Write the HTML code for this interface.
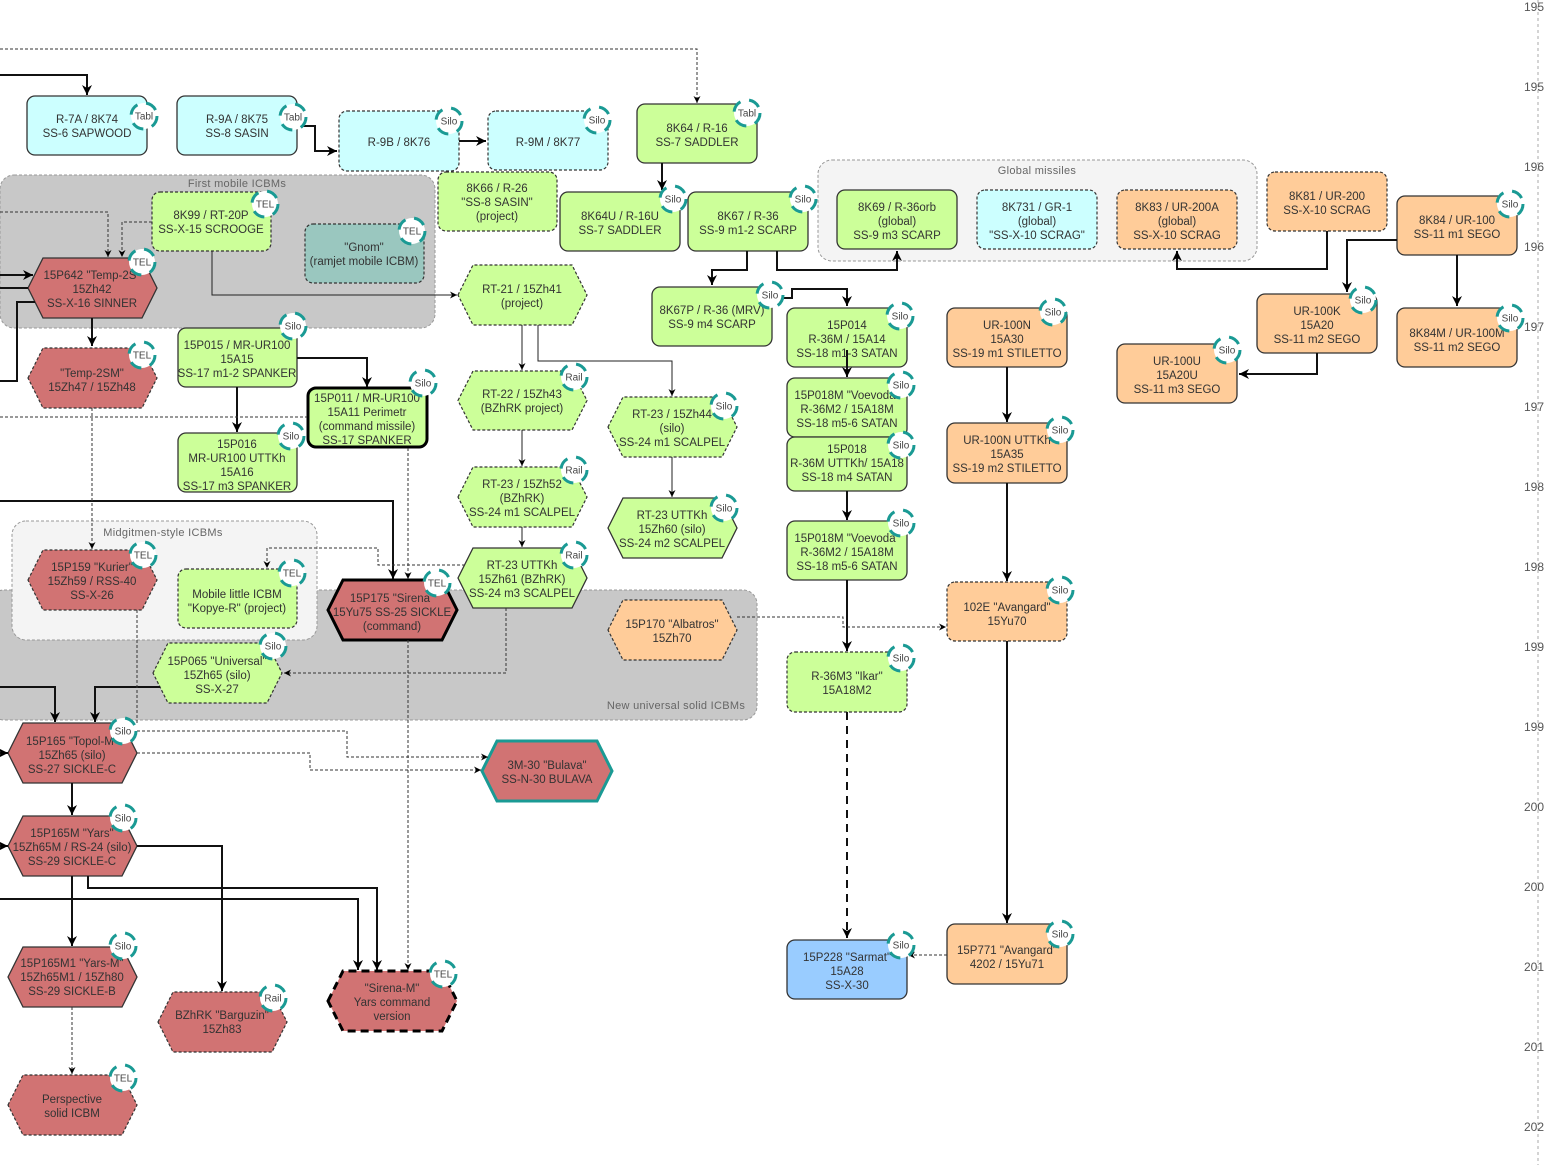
<!DOCTYPE html>
<html><head><meta charset="utf-8"><style>
html,body{margin:0;padding:0;background:#fff;}
svg{display:block;}
.t{font-family:"Liberation Sans",sans-serif;font-size:11.5px;fill:#333;text-anchor:middle;}
.g{font-family:"Liberation Sans",sans-serif;font-size:11px;fill:#666;text-anchor:middle;letter-spacing:0.3px;}
.b{font-family:"Liberation Sans",sans-serif;font-size:10px;fill:#444;text-anchor:middle;}
.y{font-family:"Liberation Sans",sans-serif;font-size:12px;fill:#555;}
.n{stroke:#333;stroke-width:1.3;}
.d{stroke:#333;stroke-width:1.2;stroke-dasharray:3 2;}
.cy{fill:#ccffff}.gr{fill:#ccff99}.rd{fill:#d17373}.or{fill:#ffcc99}.bl{fill:#99ccff}
.k{fill:none;stroke:#111;stroke-width:2;}
.s{fill:none;stroke:#222;stroke-width:1;}
.ds{fill:none;stroke:#333;stroke-width:1;stroke-dasharray:3 2;}
.bd{fill:#fff;stroke:#1a9a94;stroke-width:3;stroke-dasharray:12 9;}
</style></head><body>
<svg width="1544" height="1165" viewBox="0 0 1544 1165" xmlns="http://www.w3.org/2000/svg">
<defs>
<marker id="A" viewBox="0 0 10 10" refX="10" refY="5" markerWidth="10" markerHeight="10" markerUnits="userSpaceOnUse" orient="auto"><path d="M0,0L10,5L0,10L3,5Z" fill="#000"/></marker>
<marker id="B" viewBox="0 0 10 10" refX="10" refY="5" markerWidth="7" markerHeight="7" markerUnits="userSpaceOnUse" orient="auto"><path d="M0,0L10,5L0,10L3,5Z" fill="#000"/></marker>
</defs>
<rect width="1544" height="1165" fill="#fff"/>

<!-- timeline -->
<line x1="1538" y1="0" x2="1538" y2="1165" stroke="#aaa" stroke-width="1" stroke-dasharray="3 3"/>
<text class="y" x="1524" y="11">1950</text>
<text class="y" x="1524" y="91">1955</text>
<text class="y" x="1524" y="171">1960</text>
<text class="y" x="1524" y="251">1965</text>
<text class="y" x="1524" y="331">1970</text>
<text class="y" x="1524" y="411">1975</text>
<text class="y" x="1524" y="491">1980</text>
<text class="y" x="1524" y="571">1985</text>
<text class="y" x="1524" y="651">1990</text>
<text class="y" x="1524" y="731">1995</text>
<text class="y" x="1524" y="811">2000</text>
<text class="y" x="1524" y="891">2005</text>
<text class="y" x="1524" y="971">2010</text>
<text class="y" x="1524" y="1051">2015</text>
<text class="y" x="1524" y="1131">2020</text>

<!-- groups -->
<rect x="0" y="175" width="435" height="153" rx="14" fill="#c8c8c8" stroke="#999" stroke-dasharray="3 2"/>
<text class="g" x="237" y="187">First mobile ICBMs</text>
<rect x="818" y="160" width="439" height="101" rx="14" fill="#f4f4f4" stroke="#999" stroke-dasharray="3 2"/>
<text class="g" x="1037" y="174">Global missiles</text>
<rect x="-10" y="590" width="767" height="130" rx="14" fill="#c8c8c8" stroke="#999" stroke-dasharray="3 2"/>
<text class="g" x="676" y="709">New universal solid ICBMs</text>
<rect x="12" y="521" width="305" height="119" rx="14" fill="#f4f4f4" stroke="#999" stroke-dasharray="3 2"/>
<text class="g" x="163" y="536">Midgitmen-style ICBMs</text>

<!-- rect nodes -->
<rect class="n cy" x="27" y="96" width="120" height="59" rx="8"/>
<rect class="n cy" x="177" y="96" width="120" height="59" rx="8"/>
<rect class="d cy" x="339" y="111" width="120" height="60" rx="8"/>
<rect class="d cy" x="488" y="111" width="120" height="59" rx="8"/>
<rect class="n gr" x="637" y="104" width="120" height="59" rx="8"/>
<rect class="d gr" x="438" y="172" width="119" height="59" rx="8"/>
<rect class="n gr" x="560" y="192" width="120" height="59" rx="8"/>
<rect class="n gr" x="688" y="192" width="120" height="59" rx="8"/>
<rect class="n gr" x="837" y="190" width="120" height="59" rx="8"/>
<rect class="d cy" x="977" y="190" width="120" height="59" rx="8"/>
<rect class="d or" x="1117" y="190" width="120" height="59" rx="8"/>
<rect class="d or" x="1267" y="172" width="120" height="59" rx="8"/>
<rect class="n or" x="1397" y="196" width="120" height="59" rx="8"/>
<rect class="d gr" x="152" y="192" width="119" height="59" rx="8"/>
<rect class="d" x="305" y="224" width="119" height="59" rx="8" fill="#9ac7bf"/>
<rect class="n gr" x="178" y="328" width="119" height="59" rx="8"/>
<rect class="gr" x="308" y="388" width="119" height="59" rx="8" stroke="#000" stroke-width="3"/>
<rect class="n gr" x="178" y="433" width="119" height="59" rx="8"/>
<rect class="n gr" x="652" y="287" width="120" height="59" rx="8"/>
<rect class="n gr" x="787" y="308" width="120" height="59" rx="8"/>
<rect class="n gr" x="787" y="378" width="120" height="59" rx="8"/>
<rect class="n gr" x="787" y="437" width="120" height="54" rx="8"/>
<rect class="n gr" x="787" y="521" width="120" height="59" rx="8"/>
<rect class="d gr" x="787" y="652" width="120" height="60" rx="8"/>
<rect class="n bl" x="787" y="940" width="120" height="59" rx="8"/>
<rect class="n or" x="947" y="308" width="120" height="59" rx="8"/>
<rect class="n or" x="947" y="423" width="120" height="60" rx="8"/>
<rect class="d or" x="947" y="582" width="120" height="59" rx="8"/>
<rect class="n or" x="947" y="924" width="120" height="60" rx="8"/>
<rect class="n or" x="1257" y="294" width="120" height="59" rx="8"/>
<rect class="n or" x="1117" y="344" width="120" height="59" rx="8"/>
<rect class="n or" x="1397" y="308" width="120" height="59" rx="8"/>
<rect class="d gr" x="178" y="569" width="119" height="59" rx="8"/>

<!-- hex nodes -->
<polygon class="n rd" points="28,288 43,258 142,258 157,288 142,318 43,318"/>
<polygon class="d rd" points="28,378 43,348 142,348 157,378 142,408 43,408"/>
<polygon class="d gr" points="458,295 473,265 572,265 587,295 572,325 473,325"/>
<polygon class="d gr" points="458,400.5 473,371 572,371 587,400.5 572,430 473,430"/>
<polygon class="d gr" points="458,497 473,467 572,467 587,497 572,527 473,527"/>
<polygon class="n gr" points="458,578 473,548 572,548 587,578 572,608 473,608"/>
<polygon class="d gr" points="608,427 623,397 722,397 737,427 722,457 623,457"/>
<polygon class="n gr" points="608,528 623,498 722,498 737,528 722,558 623,558"/>
<polygon class="d or" points="608,630 623,600 722,600 737,630 722,660 623,660"/>
<polygon class="d rd" points="28,580 43,550 142,550 157,580 142,610 43,610"/>
<polygon class="rd" points="328,610 343,580 442,580 457,610 442,640 343,640" stroke="#000" stroke-width="3"/>
<polygon class="d gr" points="153,673 168,643 267,643 282,673 267,703 168,703"/>
<polygon class="n rd" points="8,753 23,723 122,723 137,753 122,783 23,783"/>
<polygon class="rd" points="482,771 497,741 597,741 612,771 597,801 497,801" stroke="#1a9a94" stroke-width="3"/>
<polygon class="n rd" points="8,846 23,816 122,816 137,846 122,876 23,876"/>
<polygon class="n rd" points="8,977 23,947 122,947 137,977 122,1007 23,1007"/>
<polygon class="d rd" points="8,1105 23,1075 122,1075 137,1105 122,1135 23,1135"/>
<polygon class="d rd" points="158,1022 173,992 272,992 287,1022 272,1052 173,1052"/>
<polygon class="rd" points="328,1001 343,971 442,971 457,1001 442,1031 343,1031" stroke="#000" stroke-width="3" stroke-dasharray="8 5"/>

<!-- thick edges -->
<path class="k" d="M0,75H87V95" marker-end="url(#A)"/>
<path class="k" d="M297,126H315V151H337" marker-end="url(#A)"/>
<path class="k" d="M459,141H486" marker-end="url(#A)"/>
<path class="k" d="M662,163V190" marker-end="url(#A)"/>
<path class="k" d="M747,251V270H712V285" marker-end="url(#A)"/>
<path class="k" d="M777,251V270H897V251" marker-end="url(#A)"/>
<path class="k" d="M1327,231V269H1177V251" marker-end="url(#A)"/>
<path class="k" d="M1397,240H1347V292" marker-end="url(#A)"/>
<path class="k" d="M1457,255V306" marker-end="url(#A)"/>
<path class="k" d="M1317,353V374H1239" marker-end="url(#A)"/>
<path class="k" d="M772,298H792V289H847V306" marker-end="url(#A)"/>
<path class="k" d="M847,350V377" marker-end="url(#A)"/>
<path class="k" d="M847,491V520" marker-end="url(#A)"/>
<path class="k" d="M847,580V651" marker-end="url(#A)"/>
<path class="k" d="M847,712V938" stroke-dasharray="8 6" marker-end="url(#A)"/>
<path class="k" d="M1007,367V422" marker-end="url(#A)"/>
<path class="k" d="M1007,483V581" marker-end="url(#A)"/>
<path class="k" d="M1007,641V923" marker-end="url(#A)"/>
<path class="k" d="M0,275H33" marker-end="url(#A)"/>
<path class="k" d="M0,288H28"/>
<path class="k" d="M35,302H17V381H0"/>
<path class="k" d="M92,318V346" marker-end="url(#A)"/>
<path class="k" d="M297,358H367V387" marker-end="url(#A)"/>
<path class="k" d="M237,387V432" marker-end="url(#A)"/>
<path class="k" d="M0,501H393V579" marker-end="url(#A)"/>
<path class="k" d="M0,687H55V722" marker-end="url(#A)"/>
<path class="k" d="M160,687H95V722" marker-end="url(#A)"/>
<path class="k" d="M0,753H8" marker-end="url(#A)"/>
<path class="k" d="M72,783V815" marker-end="url(#A)"/>
<path class="k" d="M0,846H8" marker-end="url(#A)"/>
<path class="k" d="M72,876V946" marker-end="url(#A)"/>
<path class="k" d="M137,846H222V991" marker-end="url(#A)"/>
<path class="k" d="M88,876V888H377V970" marker-end="url(#A)"/>
<path class="k" d="M0,899H358V970" marker-end="url(#A)"/>

<!-- thin solid edges -->
<path class="s" d="M212,251V295H457" marker-end="url(#B)"/>
<path class="s" d="M522,325V370" marker-end="url(#B)"/>
<path class="s" d="M538,325V361H672V396" marker-end="url(#B)"/>
<path class="s" d="M522,430V466" marker-end="url(#B)"/>
<path class="s" d="M522,527V547" marker-end="url(#B)"/>
<path class="s" d="M672,457V497" marker-end="url(#B)"/>

<!-- thin dashed edges -->
<path class="ds" d="M0,49H697V103" marker-end="url(#B)"/>
<path class="ds" d="M0,212H108V257" marker-end="url(#B)"/>
<path class="ds" d="M152,222H122V257" marker-end="url(#B)"/>
<path class="ds" d="M92,408V549" marker-end="url(#B)"/>
<path class="ds" d="M0,417H307"/>
<path class="ds" d="M408,448V579" marker-end="url(#B)"/>
<path class="ds" d="M465,565H378V548H267V568" marker-end="url(#B)"/>
<path class="ds" d="M506,608V673H284" marker-end="url(#B)"/>
<path class="ds" d="M137,610V725"/>
<path class="ds" d="M137,731H347V757H488" marker-end="url(#B)"/>
<path class="ds" d="M137,753H310V770H481" marker-end="url(#B)"/>
<path class="ds" d="M408,640V970" marker-end="url(#B)"/>
<path class="ds" d="M72,1007V1074" marker-end="url(#B)"/>
<path class="ds" d="M737,617H843V627H946" marker-end="url(#B)"/>
<path class="ds" d="M947,955H908" marker-end="url(#B)"/>

<!-- node text -->
<text class="t" x="87" y="123">R-7A / 8K74</text><text class="t" x="87" y="137">SS-6 SAPWOOD</text>
<text class="t" x="237" y="123">R-9A / 8K75</text><text class="t" x="237" y="137">SS-8 SASIN</text>
<text class="t" x="399" y="146">R-9B / 8K76</text>
<text class="t" x="548" y="146">R-9M / 8K77</text>
<text class="t" x="697" y="132">8K64 / R-16</text><text class="t" x="697" y="146">SS-7 SADDLER</text>
<text class="t" x="497" y="192">8K66 / R-26</text><text class="t" x="497" y="206">"SS-8 SASIN"</text><text class="t" x="497" y="220">(project)</text>
<text class="t" x="620" y="220">8K64U / R-16U</text><text class="t" x="620" y="234">SS-7 SADDLER</text>
<text class="t" x="748" y="220">8K67 / R-36</text><text class="t" x="748" y="234">SS-9 m1-2 SCARP</text>
<text class="t" x="897" y="211">8K69 / R-36orb</text><text class="t" x="897" y="225">(global)</text><text class="t" x="897" y="239">SS-9 m3 SCARP</text>
<text class="t" x="1037" y="211">8K731 / GR-1</text><text class="t" x="1037" y="225">(global)</text><text class="t" x="1037" y="239">"SS-X-10 SCRAG"</text>
<text class="t" x="1177" y="211">8K83 / UR-200A</text><text class="t" x="1177" y="225">(global)</text><text class="t" x="1177" y="239">SS-X-10 SCRAG</text>
<text class="t" x="1327" y="200">8K81 / UR-200</text><text class="t" x="1327" y="214">SS-X-10 SCRAG</text>
<text class="t" x="1457" y="224">8K84 / UR-100</text><text class="t" x="1457" y="238">SS-11 m1 SEGO</text>
<text class="t" x="211" y="219">8K99 / RT-20P</text><text class="t" x="211" y="233">SS-X-15 SCROOGE</text>
<text class="t" x="364" y="251">"Gnom"</text><text class="t" x="364" y="265">(ramjet mobile ICBM)</text>
<text class="t" x="237" y="349">15P015 / MR-UR100</text><text class="t" x="237" y="363">15A15</text><text class="t" x="237" y="377">SS-17 m1-2 SPANKER</text>
<text class="t" x="367" y="402">15P011 / MR-UR100</text><text class="t" x="367" y="416">15A11 Perimetr</text><text class="t" x="367" y="430">(command missile)</text><text class="t" x="367" y="444">SS-17 SPANKER</text>
<text class="t" x="237" y="448">15P016</text><text class="t" x="237" y="462">MR-UR100 UTTKh</text><text class="t" x="237" y="476">15A16</text><text class="t" x="237" y="490">SS-17 m3 SPANKER</text>
<text class="t" x="712" y="314">8K67P / R-36 (MRV)</text><text class="t" x="712" y="328">SS-9 m4 SCARP</text>
<text class="t" x="847" y="329">15P014</text><text class="t" x="847" y="343">R-36M / 15A14</text><text class="t" x="847" y="357">SS-18 m1-3 SATAN</text>
<text class="t" x="847" y="399">15P018M "Voevoda"</text><text class="t" x="847" y="413">R-36M2 / 15A18M</text><text class="t" x="847" y="427">SS-18 m5-6 SATAN</text>
<text class="t" x="847" y="453">15P018</text><text class="t" x="847" y="467">R-36M UTTKh/ 15A18</text><text class="t" x="847" y="481">SS-18 m4 SATAN</text>
<text class="t" x="847" y="542">15P018M "Voevoda"</text><text class="t" x="847" y="556">R-36M2 / 15A18M</text><text class="t" x="847" y="570">SS-18 m5-6 SATAN</text>
<text class="t" x="847" y="680">R-36M3 "Ikar"</text><text class="t" x="847" y="694">15A18M2</text>
<text class="t" x="847" y="961">15P228 "Sarmat"</text><text class="t" x="847" y="975">15A28</text><text class="t" x="847" y="989">SS-X-30</text>
<text class="t" x="1007" y="329">UR-100N</text><text class="t" x="1007" y="343">15A30</text><text class="t" x="1007" y="357">SS-19 m1 STILETTO</text>
<text class="t" x="1007" y="444">UR-100N UTTKh</text><text class="t" x="1007" y="458">15A35</text><text class="t" x="1007" y="472">SS-19 m2 STILETTO</text>
<text class="t" x="1007" y="611">102E "Avangard"</text><text class="t" x="1007" y="625">15Yu70</text>
<text class="t" x="1007" y="954">15P771 "Avangard"</text><text class="t" x="1007" y="968">4202 / 15Yu71</text>
<text class="t" x="1317" y="315">UR-100K</text><text class="t" x="1317" y="329">15A20</text><text class="t" x="1317" y="343">SS-11 m2 SEGO</text>
<text class="t" x="1177" y="365">UR-100U</text><text class="t" x="1177" y="379">15A20U</text><text class="t" x="1177" y="393">SS-11 m3 SEGO</text>
<text class="t" x="1457" y="337">8K84M / UR-100M</text><text class="t" x="1457" y="351">SS-11 m2 SEGO</text>
<text class="t" x="237" y="598">Mobile little ICBM</text><text class="t" x="237" y="612">"Kopye-R" (project)</text>
<text class="t" x="92" y="279">15P642 "Temp-2S"</text><text class="t" x="92" y="293">15Zh42</text><text class="t" x="92" y="307">SS-X-16 SINNER</text>
<text class="t" x="92" y="377">"Temp-2SM"</text><text class="t" x="92" y="391">15Zh47 / 15Zh48</text>
<text class="t" x="522" y="293">RT-21 / 15Zh41</text><text class="t" x="522" y="307">(project)</text>
<text class="t" x="522" y="398">RT-22 / 15Zh43</text><text class="t" x="522" y="412">(BZhRK project)</text>
<text class="t" x="522" y="488">RT-23 / 15Zh52</text><text class="t" x="522" y="502">(BZhRK)</text><text class="t" x="522" y="516">SS-24 m1 SCALPEL</text>
<text class="t" x="522" y="569">RT-23 UTTKh</text><text class="t" x="522" y="583">15Zh61 (BZhRK)</text><text class="t" x="522" y="597">SS-24 m3 SCALPEL</text>
<text class="t" x="672" y="418">RT-23 / 15Zh44</text><text class="t" x="672" y="432">(silo)</text><text class="t" x="672" y="446">SS-24 m1 SCALPEL</text>
<text class="t" x="672" y="519">RT-23 UTTKh</text><text class="t" x="672" y="533">15Zh60 (silo)</text><text class="t" x="672" y="547">SS-24 m2 SCALPEL</text>
<text class="t" x="672" y="628">15P170 "Albatros"</text><text class="t" x="672" y="642">15Zh70</text>
<text class="t" x="92" y="571">15P159 "Kurier"</text><text class="t" x="92" y="585">15Zh59 / RSS-40</text><text class="t" x="92" y="599">SS-X-26</text>
<text class="t" x="392" y="602">15P175 "Sirena"</text><text class="t" x="392" y="616">15Yu75 SS-25 SICKLE</text><text class="t" x="392" y="630">(command)</text>
<text class="t" x="217" y="665">15P065 "Universal"</text><text class="t" x="217" y="679">15Zh65 (silo)</text><text class="t" x="217" y="693">SS-X-27</text>
<text class="t" x="72" y="745">15P165 "Topol-M"</text><text class="t" x="72" y="759">15Zh65 (silo)</text><text class="t" x="72" y="773">SS-27 SICKLE-C</text>
<text class="t" x="547" y="769">3M-30 "Bulava"</text><text class="t" x="547" y="783">SS-N-30 BULAVA</text>
<text class="t" x="72" y="837">15P165M "Yars"</text><text class="t" x="72" y="851">15Zh65M / RS-24 (silo)</text><text class="t" x="72" y="865">SS-29 SICKLE-C</text>
<text class="t" x="72" y="967">15P165M1 "Yars-M"</text><text class="t" x="72" y="981">15Zh65M1 / 15Zh80</text><text class="t" x="72" y="995">SS-29 SICKLE-B</text>
<text class="t" x="72" y="1103">Perspective</text><text class="t" x="72" y="1117">solid ICBM</text>
<text class="t" x="222" y="1019">BZhRK "Barguzin"</text><text class="t" x="222" y="1033">15Zh83</text>
<text class="t" x="392" y="992">"Sirena-M"</text><text class="t" x="392" y="1006">Yars command</text><text class="t" x="392" y="1020">version</text>

<!-- badges -->
<g>
<circle class="bd" cx="144" cy="116" r="13"/><text class="b" x="144" y="119.5">Tabl</text>
<circle class="bd" cx="293" cy="117" r="13"/><text class="b" x="293" y="120.5">Tabl</text>
<circle class="bd" cx="449" cy="121" r="13"/><text class="b" x="449" y="124.5">Silo</text>
<circle class="bd" cx="597" cy="120" r="13"/><text class="b" x="597" y="123.5">Silo</text>
<circle class="bd" cx="747" cy="113" r="13"/><text class="b" x="747" y="116.5">Tabl</text>
<circle class="bd" cx="673" cy="199" r="13"/><text class="b" x="673" y="202.5">Silo</text>
<circle class="bd" cx="803" cy="199" r="13"/><text class="b" x="803" y="202.5">Silo</text>
<circle class="bd" cx="265" cy="204" r="13"/><text class="b" x="265" y="207.5">TEL</text>
<circle class="bd" cx="412" cy="231" r="13"/><text class="b" x="412" y="234.5">TEL</text>
<circle class="bd" cx="142" cy="262" r="13"/><text class="b" x="142" y="265.5">TEL</text>
<circle class="bd" cx="1510" cy="204" r="13"/><text class="b" x="1510" y="207.5">Silo</text>
<circle class="bd" cx="293" cy="326" r="13"/><text class="b" x="293" y="329.5">Silo</text>
<circle class="bd" cx="142" cy="355" r="13"/><text class="b" x="142" y="358.5">TEL</text>
<circle class="bd" cx="423" cy="383" r="13"/><text class="b" x="423" y="386.5">Silo</text>
<circle class="bd" cx="291" cy="436" r="13"/><text class="b" x="291" y="439.5">Silo</text>
<circle class="bd" cx="770" cy="295" r="13"/><text class="b" x="770" y="298.5">Silo</text>
<circle class="bd" cx="900" cy="316" r="13"/><text class="b" x="900" y="319.5">Silo</text>
<circle class="bd" cx="901" cy="385" r="13"/><text class="b" x="901" y="388.5">Silo</text>
<circle class="bd" cx="901" cy="445" r="13"/><text class="b" x="901" y="448.5">Silo</text>
<circle class="bd" cx="901" cy="523" r="13"/><text class="b" x="901" y="526.5">Silo</text>
<circle class="bd" cx="901" cy="658" r="13"/><text class="b" x="901" y="661.5">Silo</text>
<circle class="bd" cx="901" cy="945" r="13"/><text class="b" x="901" y="948.5">Silo</text>
<circle class="bd" cx="1053" cy="312" r="13"/><text class="b" x="1053" y="315.5">Silo</text>
<circle class="bd" cx="1060" cy="430" r="13"/><text class="b" x="1060" y="433.5">Silo</text>
<circle class="bd" cx="1060" cy="590" r="13"/><text class="b" x="1060" y="593.5">Silo</text>
<circle class="bd" cx="1060" cy="934" r="13"/><text class="b" x="1060" y="937.5">Silo</text>
<circle class="bd" cx="1363" cy="300" r="13"/><text class="b" x="1363" y="303.5">Silo</text>
<circle class="bd" cx="1227" cy="350" r="13"/><text class="b" x="1227" y="353.5">Silo</text>
<circle class="bd" cx="1510" cy="318" r="13"/><text class="b" x="1510" y="321.5">Silo</text>
<circle class="bd" cx="574" cy="377" r="13"/><text class="b" x="574" y="380.5">Rail</text>
<circle class="bd" cx="574" cy="470" r="13"/><text class="b" x="574" y="473.5">Rail</text>
<circle class="bd" cx="574" cy="555" r="13"/><text class="b" x="574" y="558.5">Rail</text>
<circle class="bd" cx="724" cy="406" r="13"/><text class="b" x="724" y="409.5">Silo</text>
<circle class="bd" cx="724" cy="508" r="13"/><text class="b" x="724" y="511.5">Silo</text>
<circle class="bd" cx="143" cy="555" r="13"/><text class="b" x="143" y="558.5">TEL</text>
<circle class="bd" cx="292" cy="573" r="13"/><text class="b" x="292" y="576.5">TEL</text>
<circle class="bd" cx="437" cy="583" r="13"/><text class="b" x="437" y="586.5">TEL</text>
<circle class="bd" cx="273" cy="646" r="13"/><text class="b" x="273" y="649.5">Silo</text>
<circle class="bd" cx="123" cy="731" r="13"/><text class="b" x="123" y="734.5">Silo</text>
<circle class="bd" cx="123" cy="818" r="13"/><text class="b" x="123" y="821.5">Silo</text>
<circle class="bd" cx="123" cy="946" r="13"/><text class="b" x="123" y="949.5">Silo</text>
<circle class="bd" cx="123" cy="1078" r="13"/><text class="b" x="123" y="1081.5">TEL</text>
<circle class="bd" cx="273" cy="998" r="13"/><text class="b" x="273" y="1001.5">Rail</text>
<circle class="bd" cx="443" cy="974" r="13"/><text class="b" x="443" y="977.5">TEL</text>
</g>
</svg>
</body></html>
